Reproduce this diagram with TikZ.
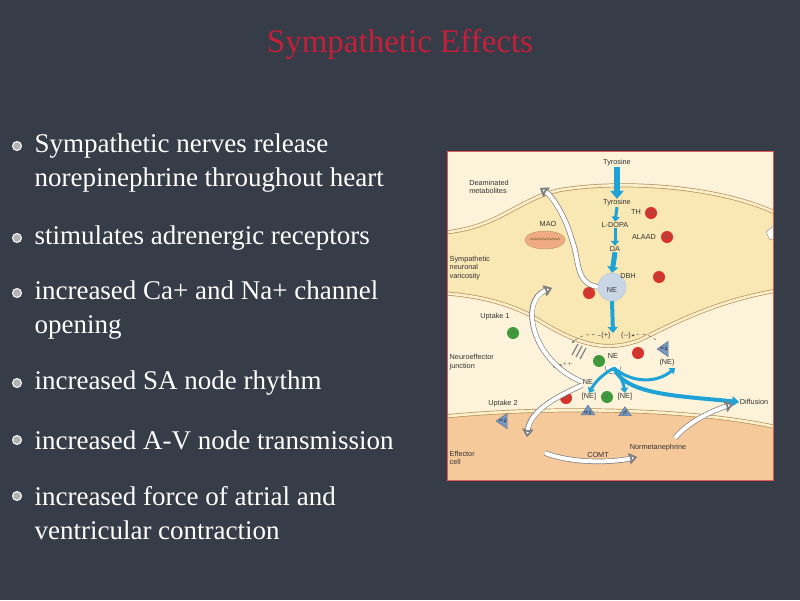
\documentclass[tikz,border=0pt]{standalone}
\usepackage{fontspec}
\setmainfont{Liberation Serif}
\newfontfamily\figf{Liberation Sans}
\usetikzlibrary{arrows.meta,shapes.geometric}
\definecolor{bg}{HTML}{363C48}
\definecolor{ttl}{HTML}{C4203A}
\definecolor{cream}{HTML}{FDF3DA}
\definecolor{neur}{HTML}{F9E7B4}
\definecolor{eff}{HTML}{F6C99A}
\definecolor{memb}{HTML}{B89058}
\definecolor{flow}{HTML}{1FA3D6}
\definecolor{rc}{HTML}{D8322A}
\definecolor{gc}{HTML}{3E9A3A}
\definecolor{rec}{HTML}{7898C0}
\tikzset{
 bul/.style={text=white,font=\fontsize{27}{34}\selectfont,anchor=west,align=left},
 bdot/.style={circle,fill=gray!60,draw=white,line width=1pt,minimum size=9pt,inner sep=0},
 lab/.style={font=\figf\fontsize{7.3}{8.3}\selectfont,text=black!80,inner sep=0.5pt,align=left},
 rcirc/.style={circle,fill=rc,minimum size=12pt,inner sep=0,font=\figf\fontsize{5.5}{5.5}\selectfont,text=black!60},
 gcirc/.style={circle,fill=gc,minimum size=12pt,inner sep=0,font=\figf\fontsize{5.5}{5.5}\selectfont,text=black!60},
 membl/.style={draw=memb,line width=0.7pt,double=neur!70!white,double distance=2.6pt},
 barrow/.style={flow,line width=3pt,-{Triangle[width=8pt,length=5pt]}},
 warrow/.style={white,line width=4pt,-{Triangle[width=10pt,length=7pt,color=gray,fill=white]},preaction={draw=gray,line width=5.4pt,-{Triangle[width=11pt,length=8pt]}}},
 recp/.style={isosceles triangle,shape border rotate=90,fill=rec,draw=rec!70!black,minimum width=11pt,minimum height=9pt,inner sep=0,isosceles triangle apex angle=70,font=\figf\fontsize{3.5}{4}\selectfont}
}
\begin{document}
\begin{tikzpicture}[x=1pt,y=-1pt]
\fill[bg] (0,0) rectangle (800,600);
\useasboundingbox (0,0) rectangle (800,600);
\node[text=ttl,font=\fontsize{33}{33}\selectfont] (title) at (400,44) {Sympathetic Effects};
% bullets
\foreach \y/\t [count=\i] in {163/{Sympathetic nerves release\\norepinephrine throughout heart},238/{stimulates adrenergic receptors},310/{increased Ca+ and Na+ channel\\opening},383/{increased SA node rhythm},440/{increased A-V node transmission},513/{increased force of atrial and\\ventricular contraction}}{
 \node[bul] (b\i) at (31,\y) {\t};
}
\foreach \y [count=\i] in {146,238,293,383,440,496}{\node[bdot] (d\i) at (17,\y) {};}
% figure
\begin{scope}
\clip (447,151) rectangle (773,480);
\fill[cream] (447,151) rectangle (773,480);
\fill[neur] (440,233) .. controls (500,228) and (515,200) .. (560,190) .. controls (620,180) and (720,185) .. (780,215)
 -- (780,290) .. controls (720,300) and (680,320) .. (640,340) .. controls (600,355) and (570,340) .. (530,315) .. controls (500,300) and (470,295) .. (440,293) -- cycle;
\draw[membl] (440,233) .. controls (500,228) and (515,200) .. (560,190) .. controls (620,180) and (720,185) .. (780,215);
\draw[membl] (780,290) .. controls (720,300) and (680,320) .. (640,340) .. controls (600,355) and (570,340) .. (530,315) .. controls (500,300) and (470,295) .. (440,293);
\fill[eff] (440,417) .. controls (520,408) and (680,405) .. (780,428) -- (780,485) -- (440,485) -- cycle;
\draw[membl] (440,417) .. controls (520,408) and (680,405) .. (780,428);
\draw[gray,fill=white] (775,225) -- (766,232) -- (770,240) -- (780,236);
\end{scope}
\draw[rc!80!white,line width=1pt] (447,151) rectangle (773,480);
% labels
\node[lab] (tyr1) at (617,163) {Tyrosine};
\node[lab] (tyr2) at (617,203) {Tyrosine};
\node[lab] (th) at (636,212) {TH};
\node[rcirc] (c1a) at (651,213) {1a};
\node[lab] (ldopa) at (615,225) {L-DOPA};
\node[lab] (alaad) at (644,237) {ALAAD};
\node[rcirc] (c1b) at (667,237) {1b};
\node[lab] (da) at (615,249) {DA};
\node[circle,fill=rec!40!white,draw=rec!60!white,minimum size=28pt,inner sep=0] (ves) at (612,287) {};
\node[lab] (dbh) at (628,276) {DBH};
\node[lab] (ne1) at (612,290) {NE};
\node[rcirc] (c1c) at (659,277) {1c};
\node[rcirc] (c2r) at (589,293) {2};
\node[lab] (deam) at (489,187) {Deaminated\\metabolites};
\node[lab] (mao) at (548,224) {MAO};
\node[ellipse,draw=memb,fill=eff!80!rc,minimum width=40pt,minimum height=18pt,inner sep=0] (mito) at (545,240) {};
\draw[memb!70!black,line width=0.4pt] (530,240) \foreach \k in {0,...,9}{ -- ++(1.5,-2) -- ++(1.5,2)};
\node[lab,anchor=west] (snv) at (449,268) {Sympathetic\\neuronal\\varicosity};
\node[lab] (up1) at (495,317) {Uptake 1};
\node[gcirc] (g2) at (513,333) {2};
\node[lab,anchor=west] (nej) at (449,362) {Neuroeffector\\junction};
\node[lab] (ca) at (563,365) {Ca$^{++}$};
\draw[gray,line width=1.2pt] (572,355)--(578,344) (576,357)--(582,346) (580,359)--(586,348);
\draw[black!70,fill=white] (605,366) arc (180:0:8);
\node[lab] (ne2) at (613,356) {NE};
\node[gcirc] (g1) at (599,361) {1};
\node[rcirc] (c3) at (638,353) {3};
\node[recp,shape border rotate=200] (a2a) at (664,349) {$\alpha_2$};
\node[lab] (ne3) at (667,363) {(NE)};
\node[lab] (plus) at (606,336) {(+)};
\node[lab] (minus) at (626,336) {(--)};
\draw[dashed,black!70,-{Stealth[length=3pt]}] (plus.west) to[bend right=30] (572,343);
\draw[dashed,black!70,-{Stealth[length=3pt]}] (656,340) to[bend right=30] (minus.east);
\node[lab] (ne4) at (588,382) {NE};
\node[rcirc] (c4) at (566,398) {4};
\node[lab] (ne5) at (589,397) {[NE]};
\node[gcirc] (g5) at (607,397) {5};
\node[lab] (ne6) at (625,397) {[NE]};
\node[recp] (a1) at (588,413) {$\alpha_1$};
\node[recp] (bt) at (625,413) {$\beta$};
\node[lab] (up2) at (503,404) {Uptake 2};
\node[recp,shape border rotate=200] (a2b) at (503,421) {$\alpha_2$};
\node[lab] (diff) at (754,402) {Diffusion};
\node[lab,anchor=west] (effc) at (449,458) {Effector\\cell};
\node[lab] (comt) at (598,455) {COMT};
\node[lab] (nmn) at (658,448) {Normetanephrine};
% blue flow
\draw[flow,line width=6pt,-{Triangle[width=13pt,length=8pt]}] (tyr1.south) -- (tyr2.north);
\draw[barrow] (tyr2.south) -- (ldopa.north);
\draw[barrow] (ldopa.south) -- (da.north);
\draw[flow,line width=5pt,-{Triangle[width=11pt,length=6pt]}] (da.south) -- (ves.north);
\draw[flow,line width=4pt,-{Triangle[width=10pt,length=6pt]}] (ves.south) -- (613,333);
\coordinate (rel) at (614,368);
\draw[barrow] (rel) to[bend right=15] (ne5.north);
\draw[barrow] (rel) to[bend left=15] (ne6.north);
\draw[barrow] (rel) to[bend right=40] (675,368);
\draw[flow,line width=4pt,-{Triangle[width=10pt,length=7pt]}] (rel) .. controls (625,395) and (680,396) .. (diff.west);
% white arrows
\draw[warrow] (ne4.west) .. controls (530,360) and (520,300) .. (552,288);
\draw[warrow] (ves.west) .. controls (575,283) and (580,262) .. (572,240) .. controls (565,215) and (552,196) .. (540,188);
\draw[warrow] (ne4.south west) .. controls (560,395) and (530,410) .. (527,437);
\draw[warrow] (545,453) .. controls (570,463) and (610,463) .. (637,457);
\draw[warrow] (675,438) .. controls (690,420) and (715,410) .. (733,404);
\end{tikzpicture}
\end{document}
